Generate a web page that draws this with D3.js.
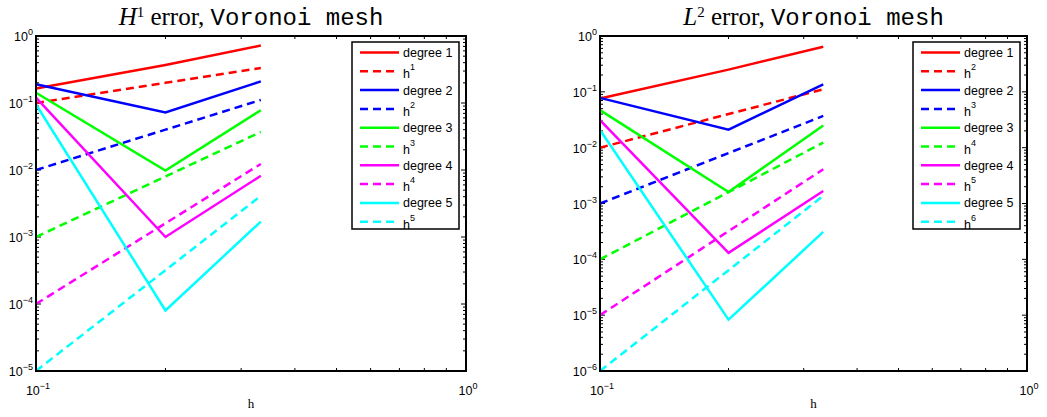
<!DOCTYPE html>
<html>
<head>
<meta charset="utf-8">
<script src="https://cdn.jsdelivr.net/npm/d3@7"></script>
<style>
  body { margin: 0; background: #fff; }
  svg { display: block; }
  .tick-label { font-family: "Liberation Sans", Arial, sans-serif; font-size: 12.5px; fill: #000; }
  .legend-label { font-family: "Liberation Sans", Arial, sans-serif; font-size: 12.5px; fill: #000; }
  .title { font-family: "Liberation Serif", serif; font-size: 25px; fill: #000; }
  .mono { font-family: "Liberation Mono", "DejaVu Sans Mono", monospace; }
  .xlabel { font-family: "Liberation Serif", serif; font-size: 13px; fill: #000; }
</style>
</head>
<body>
<script>
// mesh sizes
var hValues = [0.1, 0.2, 0.3333];

// H1 error per polynomial degree
var errH1 = [
  [0.165, 0.37, 0.72],
  [0.19, 0.072, 0.21],
  [0.142, 0.0098, 0.078],
  [0.12, 0.001, 0.0082],
  [0.095, 0.00008, 0.0017]
];
// reference slopes h^1 .. h^5
var refH1 = [
  [0.1, 0.2, 0.3333],
  [0.01, 0.04, 0.1111],
  [0.001, 0.008, 0.037],
  [0.0001, 0.0016, 0.0123],
  [0.00001, 0.00032, 0.0041]
];

// L2 error per polynomial degree
var errL2 = [
  [0.076, 0.25, 0.64],
  [0.078, 0.021, 0.136],
  [0.047, 0.0016, 0.025],
  [0.031, 0.000131, 0.00167],
  [0.0207, 0.0000083, 0.00031]
];
// reference slopes h^2 .. h^6
var refL2 = [
  [0.01, 0.04, 0.1111],
  [0.001, 0.008, 0.037],
  [0.0001, 0.0016, 0.0123],
  [0.00001, 0.00032, 0.0041],
  [0.000001, 0.000064, 0.00137]
];

var degreeLabels = ['degree 1', 'degree 2', 'degree 3', 'degree 4', 'degree 5'];
var refExpH1 = ['1', '2', '3', '4', '5'];
var refExpL2 = ['2', '3', '4', '5', '6'];
var colors = ['#ff0000', '#0000ff', '#00ff00', '#ff00ff', '#00ffff'];

var xTickExp = [-1, 0];
var yTickExpH1 = [0, -1, -2, -3, -4, -5];
var yTickExpL2 = [0, -1, -2, -3, -4, -5, -6];

var width = 1047, height = 417;

var svg = d3.select('body').append('svg')
    .attr('width', width)
    .attr('height', height);

drawPanel({
  left: 36, right: 466, top: 36, bottom: 371,
  yExp: yTickExpH1,
  errors: errH1, refs: refH1, refExp: refExpH1,
  titleSup: '1', titleLetter: 'H'
});

drawPanel({
  left: 600, right: 1027, top: 36, bottom: 371,
  yExp: yTickExpL2,
  errors: errL2, refs: refL2, refExp: refExpL2,
  titleSup: '2', titleLetter: 'L'
});

function drawPanel(p) {
  var x = d3.scaleLog()
      .domain([Math.pow(10, xTickExp[0]), Math.pow(10, xTickExp[xTickExp.length - 1])])
      .range([p.left, p.right]);
  var y = d3.scaleLog()
      .domain([Math.pow(10, d3.min(p.yExp)), Math.pow(10, d3.max(p.yExp))])
      .range([p.bottom, p.top]);

  var g = svg.append('g');

  // ticks (inward, on all four sides)
  var xTicks = x.ticks();
  var yTicks = y.ticks();
  function isMajor(v) {
    var l = Math.log10(v);
    return Math.abs(l - Math.round(l)) < 1e-6;
  }
  var ticks = g.append('g').attr('stroke', '#000').attr('stroke-width', 1);
  xTicks.forEach(function(v) {
    var len = isMajor(v) ? 5 : 3;
    ticks.append('line').attr('x1', x(v)).attr('x2', x(v))
        .attr('y1', p.bottom).attr('y2', p.bottom - len);
    ticks.append('line').attr('x1', x(v)).attr('x2', x(v))
        .attr('y1', p.top).attr('y2', p.top + len);
  });
  yTicks.forEach(function(v) {
    var len = isMajor(v) ? 5 : 3;
    ticks.append('line').attr('y1', y(v)).attr('y2', y(v))
        .attr('x1', p.left).attr('x2', p.left + len);
    ticks.append('line').attr('y1', y(v)).attr('y2', y(v))
        .attr('x1', p.right).attr('x2', p.right - len);
  });

  // lines
  var line = d3.line()
      .x(function(d, i) { return x(hValues[i]); })
      .y(function(d) { return y(d); });

  var lines = g.append('g').attr('fill', 'none').attr('stroke-width', 2.5);
  p.errors.forEach(function(s, k) {
    lines.append('path').datum(s)
        .attr('d', line)
        .attr('stroke', colors[k]);
    lines.append('path').datum(p.refs[k])
        .attr('d', line)
        .attr('stroke', colors[k])
        .attr('stroke-dasharray', '8,5');
  });

  // axes box
  g.append('rect')
      .attr('x', p.left).attr('y', p.top)
      .attr('width', p.right - p.left).attr('height', p.bottom - p.top)
      .attr('fill', 'none').attr('stroke', '#000').attr('stroke-width', 2);

  // y tick labels
  p.yExp.forEach(function(e) {
    var t = g.append('text').attr('class', 'tick-label')
        .attr('x', p.left - 3).attr('y', y(Math.pow(10, e)) + 5)
        .attr('text-anchor', 'end');
    t.append('tspan').text('10');
    t.append('tspan').attr('dy', -6).attr('font-size', '9px').text(e === 0 ? '0' : '\u2212' + (-e));
  });

  // x tick labels
  xTickExp.forEach(function(e) {
    var t = g.append('text').attr('class', 'tick-label')
        .attr('x', x(Math.pow(10, e)) + 2).attr('y', p.bottom + 24)
        .attr('text-anchor', 'middle');
    t.append('tspan').text('10');
    t.append('tspan').attr('dy', -6).attr('font-size', '9px').text(e === 0 ? '0' : '\u2212' + (-e));
  });

  // x label
  g.append('text').attr('class', 'xlabel')
      .attr('x', (p.left + p.right) / 2).attr('y', p.bottom + 37)
      .attr('text-anchor', 'middle')
      .text('h');

  // title
  var title = g.append('text').attr('class', 'title')
      .attr('x', (p.left + p.right) / 2).attr('y', 25)
      .attr('text-anchor', 'middle');
  title.append('tspan').attr('font-style', 'italic').text(p.titleLetter);
  title.append('tspan').attr('dy', -8).attr('font-size', '15px').text(p.titleSup);
  title.append('tspan').attr('dy', 8).text(' error, ');
  title.append('tspan').attr('class', 'mono').attr('font-size', '24px').text('Voronoi mesh');

  // legend
  var lw = 107, lh = 187;
  var lx = p.right - 7 - lw, ly = p.top + 6;
  var legend = g.append('g').attr('transform', 'translate(' + lx + ',' + ly + ')');
  legend.append('rect')
      .attr('width', lw).attr('height', lh)
      .attr('fill', '#fff').attr('stroke', '#000').attr('stroke-width', 1.5);

  var entries = [];
  degreeLabels.forEach(function(lbl, k) {
    entries.push({ color: colors[k], dashed: false, text: lbl });
    entries.push({ color: colors[k], dashed: true, text: 'h', sup: p.refExp[k] });
  });
  entries.forEach(function(en, i) {
    var yy = 10.5 + i * 18.8;
    legend.append('line')
        .attr('x1', 8).attr('x2', 47).attr('y1', yy).attr('y2', yy)
        .attr('stroke', en.color).attr('stroke-width', 2.5)
        .attr('stroke-dasharray', en.dashed ? '8,5' : null);
    var t = legend.append('text').attr('class', 'legend-label')
        .attr('x', 51).attr('y', yy + (en.sup ? 7 : 4.5));
    t.append('tspan').text(en.text);
    if (en.sup) {
      t.append('tspan').attr('dy', -8).attr('font-size', '9px').text(en.sup);
    }
  });
}
</script>
</body>
</html>
